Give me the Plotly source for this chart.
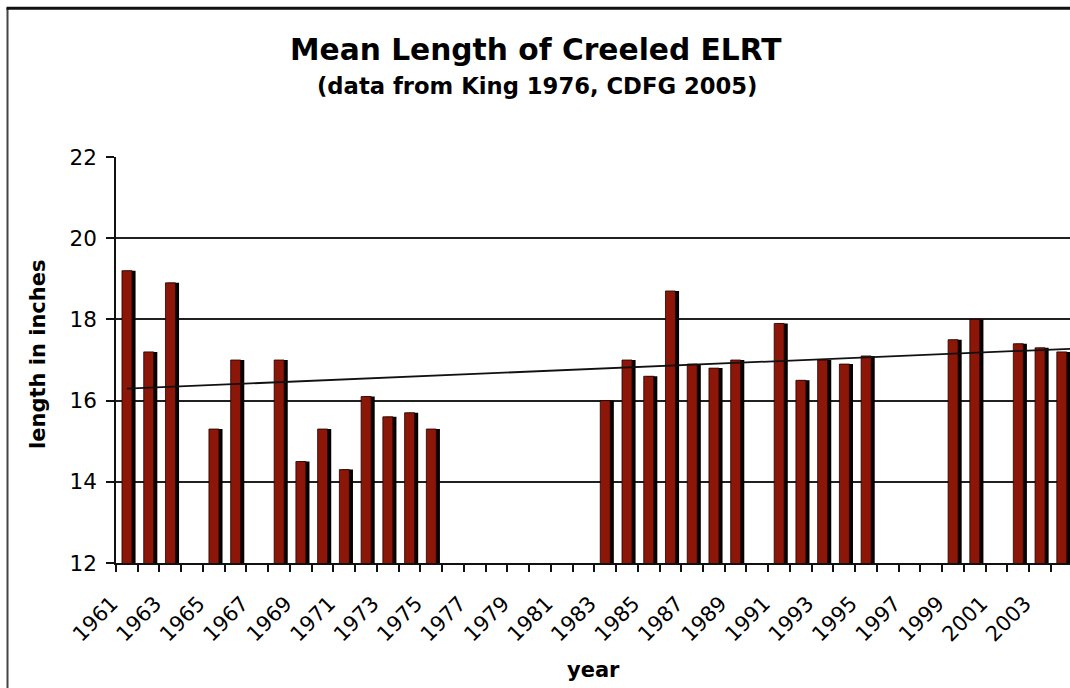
import numpy as np
import plotly.graph_objects as go

# ---- data ----
years = [1961, 1962, 1963, 1965, 1966, 1968, 1969, 1970, 1971, 1972, 1973, 1974, 1975,
         1983, 1984, 1985, 1986, 1987, 1988, 1989,
         1991, 1992, 1993, 1994, 1995,
         1999, 2000, 2002, 2003, 2004]
lengths = [19.2, 17.2, 18.9, 15.3, 17.0, 17.0, 14.5, 15.3, 14.3, 16.1, 15.6, 15.7, 15.3,
           16.0, 17.0, 16.6, 18.7, 16.9, 16.8, 17.0,
           17.9, 16.5, 17.0, 16.9, 17.1,
           17.5, 18.0, 17.4, 17.3, 17.2]
first_year, last_year = 1961, 2005
tick_years = list(range(1961, 2004, 2))
tick_text = [str(y) for y in tick_years]

title = "Mean Length of Creeled ELRT"
subtitle = "(data from King 1976, CDFG 2005)"
y_title = "length in inches"
x_title = "year"

# linear trendline (least squares)
slope, intercept = np.polyfit(years, lengths, 1)
trend_x = [first_year, last_year]
trend_y = [slope * x + intercept for x in trend_x]

FONT = "DejaVu Sans"
RED = "#8c1608"

W, H = 1070, 688
ML, MR, MT, MB = 116, 0, 157, 125
PW, PH = W - ML - MR, H - MT - MB
cat_px = 21.74
x_range = [first_year - 0.5, first_year - 0.5 + PW / cat_px]
y_range = [12, 22]


def px_x(p):
    return (p - ML) / PW


def px_y(p):
    return (H - MB - p) / PH


fig = go.Figure()

# dark side of the 3-D columns
fig.add_trace(go.Bar(x=years, y=lengths, width=0.5, offset=-0.1,
                     marker=dict(color="#050000", line=dict(width=0)),
                     showlegend=False, hoverinfo="skip"))
# front faces
fig.add_trace(go.Bar(x=years, y=lengths, width=0.46, offset=-0.225,
                     marker=dict(color=RED, line=dict(width=0.8, color="#200000")),
                     showlegend=False, name="mean length"))
# trendline
fig.add_trace(go.Scatter(x=trend_x, y=trend_y, mode="lines",
                         line=dict(color="#111111", width=1.8),
                         showlegend=False, hoverinfo="skip"))

fig.update_layout(
    width=W, height=H,
    margin=dict(l=ML, r=MR, t=MT, b=MB, pad=0, autoexpand=False),
    paper_bgcolor="white", plot_bgcolor="white",
    font=dict(family=FONT, color="black", size=21),
    barmode="overlay",
    xaxis=dict(
        range=x_range, tickmode="array", tickvals=tick_years, ticktext=tick_text,
        tickangle=-45, ticks="", showgrid=False, zeroline=False,
        showline=True, linecolor="#111111", linewidth=1.6,
        ticklabelstandoff=18, ticklabelshift=-15,
        tickfont=dict(family=FONT, size=21, color="black"),
        minor=dict(tick0=first_year - 0.5, dtick=1, ticks="outside", ticklen=7,
                   tickcolor="#111111", tickwidth=1.5, showgrid=False),
    ),
    yaxis=dict(
        range=y_range, dtick=2, tick0=12, showgrid=True, gridcolor="#202020", gridwidth=1.5,
        zeroline=False, showline=True, linecolor="#111111", linewidth=1.6,
        ticks="outside", ticklen=8, tickcolor="#111111", tickwidth=1.5,
        ticklabelstandoff=5,
        tickfont=dict(family=FONT, size=21.5, color="black"),
    ),
    shapes=[
        dict(type="line", xref="paper", yref="paper", x0=px_x(7.5), x1=px_x(7.5),
             y0=px_y(8), y1=px_y(700), line=dict(color="#444444", width=2)),
        dict(type="line", xref="paper", yref="paper", x0=px_x(6.5), x1=px_x(1080),
             y0=px_y(8.3), y1=px_y(8.3), line=dict(color="#111111", width=3)),
    ],
    annotations=[
        dict(text=title, xref="paper", yref="paper", x=px_x(536), y=px_y(50),
             xanchor="center", yanchor="middle", showarrow=False,
             font=dict(family=FONT, size=29.7, weight="bold", color="black")),
        dict(text=subtitle, xref="paper", yref="paper", x=px_x(536.5), y=px_y(86),
             xanchor="center", yanchor="middle", showarrow=False,
             font=dict(family=FONT, size=22.7, weight="bold", color="black")),
        dict(text=y_title, xref="paper", yref="paper", x=px_x(38), y=px_y(355),
             xanchor="center", yanchor="middle", showarrow=False, textangle=-90,
             font=dict(family=FONT, size=21, weight="bold", color="black")),
        dict(text=x_title, xref="paper", yref="paper", x=px_x(593.5), y=px_y(670),
             xanchor="center", yanchor="middle", showarrow=False,
             font=dict(family=FONT, size=21, weight="bold", color="black")),
    ],
)

fig.write_html("out.html", config={"displayModeBar": False},
               post_script="document.body.style.margin='0px';")
